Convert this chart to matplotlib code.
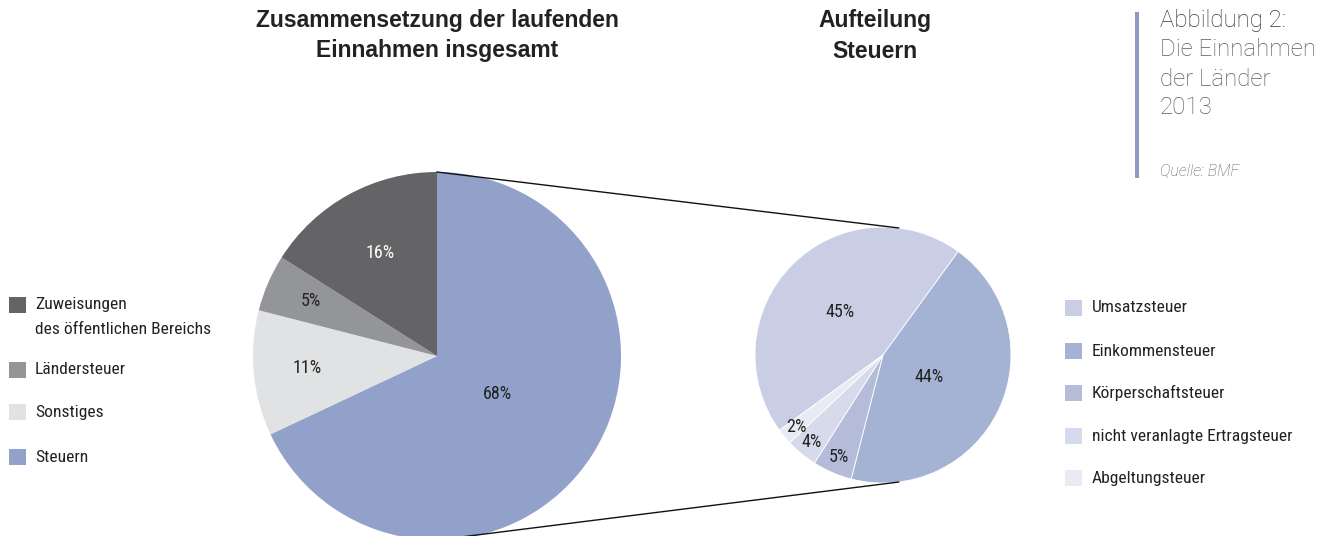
import numpy as np
import matplotlib
matplotlib.use("Agg")
import matplotlib.pyplot as plt
from matplotlib.patches import Rectangle

# Daten
links_labels = ["Steuern", "Sonstiges", "Ländersteuer", "Zuweisungen\ndes öffentlichen Bereichs"]
links_werte = [68, 11, 5, 16]
links_farben = ["#91a1c9", "#e1e2e3", "#949598", "#646466"]

rechts_labels = ["Umsatzsteuer", "Einkommensteuer", "Körperschaftsteuer",
                 "nicht veranlagte Ertragsteuer", "Abgeltungsteuer"]
rechts_werte = [45, 44, 5, 4, 2]
rechts_farben = ["#c9cee5", "#a4b2d4", "#b4bcd9", "#d6daea", "#e9ebf4"]

W, H = 1317, 536
narrow = ["Roboto Condensed", "DejaVu Sans"]
txt = "#222222"

fig = plt.figure(figsize=(W / 100, H / 100), dpi=100)
ax = fig.add_axes([0, 0, 1, 1])

# Pies in Pixelkoordinaten (y nach oben)
cl, rl = (437, H - 356), 184
cr, rr = (883, H - 355), 128

wl, _ = ax.pie(links_werte, colors=links_farben, startangle=90, counterclock=False,
               center=cl, radius=rl, wedgeprops=dict(linewidth=0))
wr, _ = ax.pie(rechts_werte, colors=rechts_farben, startangle=216, counterclock=False,
               center=cr, radius=rr, wedgeprops=dict(linewidth=0.6, edgecolor="white"))

# Prozentlabels
def labels(wedges, werte, c, r, dist, farben_txt):
    for w, v, d, fc in zip(wedges, werte, dist, farben_txt):
        a = np.deg2rad((w.theta1 + w.theta2) / 2)
        ax.text(c[0] + d * r * np.cos(a), c[1] + d * r * np.sin(a), f"{v}%",
                ha="center", va="center", fontsize=13, color=fc, family=narrow)

labels(wl, links_werte, cl, rl, [0.39, 0.71, 0.75, 0.64], [txt] * 3 + ["white"])
labels(wr, rechts_werte, cr, rr, [0.47, 0.4, 0.87, 0.88, 0.88], [txt] * 5)

# Verbindungslinien
for al, ar in [(90, 83), (-90, -83)]:
    p1 = (cl[0] + rl * np.cos(np.deg2rad(al)), cl[1] + rl * np.sin(np.deg2rad(al)))
    p2 = (cr[0] + rr * np.cos(np.deg2rad(ar)), cr[1] + rr * np.sin(np.deg2rad(ar)))
    ax.plot([p1[0], p2[0]], [p1[1], p2[1]], color="#111111", lw=1.0)

ax.set_xlim(0, W)
ax.set_ylim(0, H)
ax.set_aspect("equal")
ax.axis("off")

# Legenden
lins_y = [457, 412, 370, 305]
for lab, col, y in zip(links_labels, links_farben, lins_y):
    ax.add_patch(Rectangle((9, H - y - 8), 17, 16, color=col, lw=0))
    for j, zeile in enumerate(lab.split("\n")):
        ax.text(35, H - y - 25 * j, zeile, ha="left", va="center", fontsize=12.6,
                color=txt, family=narrow)

rechts_y = [308, 351, 393, 436, 478]
for lab, col, y in zip(rechts_labels, rechts_farben, rechts_y):
    ax.add_patch(Rectangle((1065, H - y - 8), 17, 16, color=col, lw=0))
    ax.text(1092, H - y, lab, ha="left", va="center", fontsize=12.6,
            color=txt, family=narrow)

# Titel
for x, zeilen in [(437, ["Zusammensetzung der laufenden", "Einnahmen insgesamt"]),
                  (875, ["Aufteilung", "Steuern"])]:
    for i, t in enumerate(zeilen):
        ax.text(x, H - 21 - 30 * i, t, ha="center", va="center", fontsize=16.5,
                fontweight="bold", color=txt, family="Liberation Sans")

# Abbildungsvermerk
ax.add_patch(Rectangle((1135, H - 178), 4, 166, color="#8e9bc0", lw=0))
ax.text(1160, H - 21, "Abbildung 2:", ha="left", va="center", fontsize=17.3,
        color="#383838", family="Roboto", fontweight="light")
for i, t in enumerate(["Die Einnahmen", "der Länder", "2013"]):
    ax.text(1160, H - 50 - 29 * i, t, ha="left", va="center", fontsize=17.3,
            color="#5c5c5c", family="Roboto", fontweight="light")
ax.text(1160, H - 171, "Quelle: BMF", ha="left", va="center", fontsize=11.5,
        color="#5c5c5c", family="Roboto", fontweight="light", style="italic")

fig.savefig("out.png", dpi=100, facecolor="white")
